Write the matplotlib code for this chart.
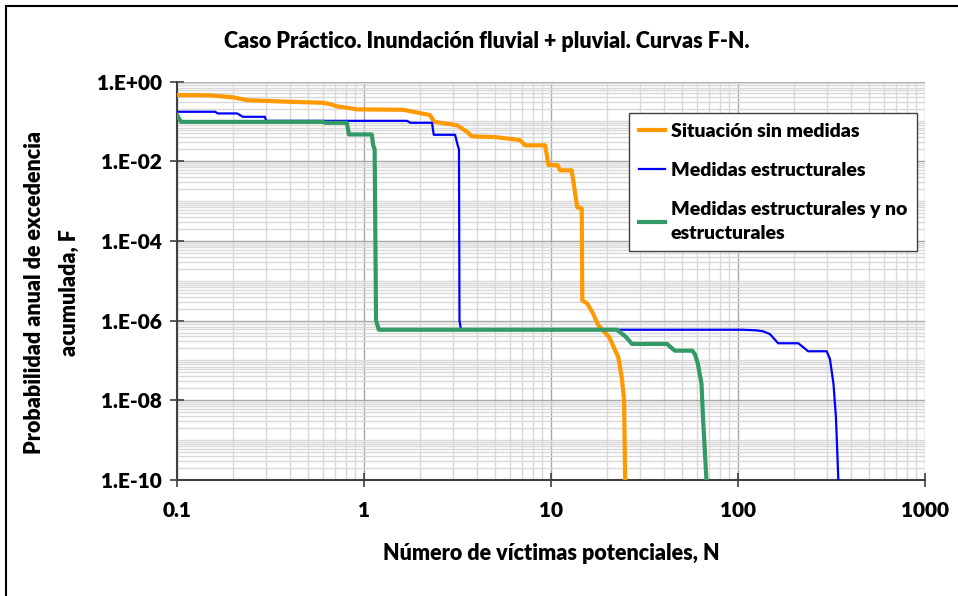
import matplotlib
matplotlib.use("Agg")
import matplotlib.pyplot as plt
from matplotlib.patches import Rectangle
from matplotlib.ticker import LogLocator, FixedLocator, NullFormatter

plt.rcParams['font.family'] = ['Lato', 'DejaVu Sans']
plt.rcParams['font.weight'] = 'bold'

# curve data (N, F)
sin_n = [0.1, 0.15, 0.2, 0.237, 0.4, 0.6, 0.66, 0.71, 0.92, 1.62, 2.25, 2.38, 3.14,
         3.55, 3.78, 5.1, 6.8, 7.3, 9.3, 9.7, 10.8, 11.2, 12.9, 13.3, 13.8, 14.6,
         14.7, 15.6, 16.8, 17.8, 18.3, 20.5, 22.9, 23.9, 24.6, 24.9]
sin_f = [0.457, 0.45, 0.40, 0.34, 0.31, 0.293, 0.27, 0.24, 0.20, 0.195, 0.144, 0.097, 0.08,
         0.055, 0.042, 0.04, 0.034, 0.025, 0.025, 0.008, 0.008, 0.0059, 0.0059, 0.0023,
         7.0e-4, 6.5e-4, 3.2e-6, 2.7e-6, 1.5e-6, 8.0e-7, 6.8e-7, 3.8e-7, 1.2e-7, 3.7e-8,
         1e-8, 1e-10]

est_n = [0.1, 0.16, 0.165, 0.21, 0.225, 0.295, 0.30, 1.7, 1.77, 2.31, 2.36, 3.07, 3.17,
         3.22, 3.24, 3.3, 106, 125, 136, 148, 164, 210, 229, 237, 298, 310, 324, 334, 344]
est_f = [0.174, 0.174, 0.158, 0.158, 0.13, 0.13, 0.103, 0.103, 0.092, 0.092, 0.046, 0.046, 0.025,
         0.02, 1e-6, 5.9e-7, 5.9e-7, 5.7e-7, 5.4e-7, 4.6e-7, 2.7e-7, 2.7e-7, 1.95e-7, 1.7e-7,
         1.7e-7, 1.1e-7, 2.6e-8, 3.7e-9, 1e-10]

noe_n = [0.1, 0.105, 0.6, 0.62, 0.81, 0.83, 1.10, 1.12, 1.14, 1.16, 1.2, 22.5, 25, 27.1,
         41.7, 45.9, 57, 59, 61, 63.8, 65, 67.8]
noe_f = [0.144, 0.097, 0.097, 0.092, 0.092, 0.047, 0.047, 0.025, 0.02, 1e-6, 5.9e-7, 5.9e-7,
         4e-7, 2.6e-7, 2.6e-7, 1.76e-7, 1.76e-7, 1.4e-7, 8.3e-8, 2.6e-8, 3.6e-9, 1e-10]

labels = ["Situación sin medidas", "Medidas estructurales",
          "Medidas estructurales y no\nestructurales"]
y_ticks = [1e0, 1e-2, 1e-4, 1e-6, 1e-8, 1e-10]
y_tick_labels = ["1.E+00", "1.E-02", "1.E-04", "1.E-06", "1.E-08", "1.E-10"]
x_ticks = [0.1, 1, 10, 100, 1000]
x_tick_labels = ["0.1", "1", "10", "100", "1000"]

W, H = 958, 596
fig = plt.figure(figsize=(W / 100, H / 100), dpi=100)
ax = fig.add_axes([177 / W, (H - 480) / H, (925 - 177) / W, (480 - 81.5) / H])

ax.plot(sin_n, sin_f, color='#FF9900', lw=3.0, label=labels[0], zorder=3)
ax.plot(est_n, est_f, color='#0000FF', lw=1.6, label=labels[1], zorder=3)
ax.plot(noe_n, noe_f, color='#339966', lw=3.0, label=labels[2], zorder=3)

ax.set_xscale('log')
ax.set_yscale('log')
ax.set_xlim(0.1, 1000)
ax.set_ylim(1e-10, 1)

ax.xaxis.set_major_locator(FixedLocator(x_ticks))
ax.set_xticklabels(x_tick_labels)
ax.xaxis.set_minor_locator(LogLocator(base=10, subs=range(2, 10), numticks=50))
ax.xaxis.set_minor_formatter(NullFormatter())

ax.yaxis.set_major_locator(FixedLocator(y_ticks))
ax.set_yticklabels(y_tick_labels)
ax.yaxis.set_minor_locator(LogLocator(base=10, subs=range(1, 10), numticks=50))
ax.yaxis.set_minor_formatter(NullFormatter())

ax.grid(which='major', color='#a6a6a6', lw=1.0, zorder=0)
ax.grid(which='minor', color='#d9d9d9', lw=1.0, zorder=0)
ax.set_axisbelow(True)

ax.tick_params(which='major', direction='inout', length=10, width=1.2, color='#404040',
               labelsize=15, pad=6)
ax.tick_params(axis='x', pad=10)
ax.tick_params(which='minor', length=0)

for s in ['top', 'right']:
    ax.spines[s].set_visible(False)
for s in ['left', 'bottom']:
    ax.spines[s].set_color('#404040')
    ax.spines[s].set_linewidth(1.5)

for lab in ax.get_xticklabels() + ax.get_yticklabels():
    lab.set_fontweight('heavy')

fig.text(487 / W, 1 - 41 / H, "Caso Práctico. Inundación fluvial + pluvial. Curvas F-N.",
         ha='center', va='center', fontsize=15.5, fontweight='heavy')
fig.text(551 / W, 1 - 553 / H, "Número de víctimas potenciales, N",
         ha='center', va='center', fontsize=15.5, fontweight='heavy')
fig.text(52 / W, 1 - 293 / H, "Probabilidad anual de excedencia\nacumulada, F",
         ha='center', va='center', rotation=90, fontsize=15.5, fontweight='heavy',
         linespacing=1.85)

leg = ax.legend(loc='upper left', bbox_to_anchor=(629 / W, 1 - 113 / H),
                bbox_transform=fig.transFigure, borderaxespad=0, fancybox=False,
                frameon=True, handlelength=1.35, handletextpad=0.3,
                labelspacing=1.15, borderpad=0.5, prop={'weight': 'heavy', 'size': 14})
leg.get_texts()[2].set_linespacing(1.45)
leg.get_frame().set_edgecolor('#404040')
leg.get_frame().set_linewidth(1.0)
leg.get_frame().set_alpha(1)

fig.add_artist(Rectangle((6 / W, -0.1), 2, 1 - 6 / H + 0.1, transform=fig.transFigure,
                         fill=False, ec='black', lw=1.5))

fig.savefig("out.png", dpi=100)
